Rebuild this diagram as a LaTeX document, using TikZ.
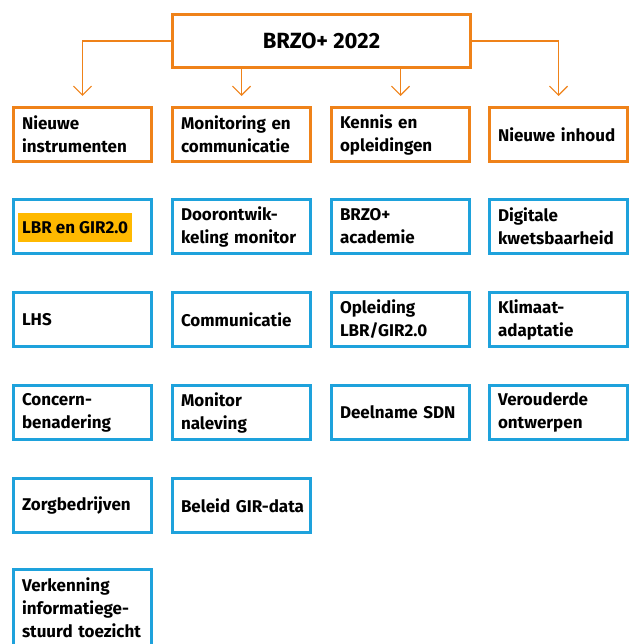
\documentclass[tikz,border=0pt]{standalone}
\usepackage{fontspec}
\setmainfont{Fira Sans}
\usetikzlibrary{arrows.meta}
\definecolor{brzoorange}{HTML}{EF8219}
\definecolor{brzoblue}{HTML}{1EA2DC}
\definecolor{brzoyellow}{HTML}{FFB900}

\begin{document}
\begin{tikzpicture}[x=1pt,y=-1pt,
  box/.style={draw, line width=3pt, minimum height=54pt, text width=121pt,
    inner xsep=8.5pt, inner ysep=0pt, align=left,
    font=\bfseries\fontsize{17}{23}\selectfont},
  catbox/.style={box, draw=brzoorange},
  itembox/.style={box, draw=brzoblue},
  hilite/.style={fill=brzoyellow, inner xsep=4pt, inner ysep=0pt,
    minimum height=29pt, font=\bfseries\fontsize{17}{23}\selectfont},
  link/.style={draw=brzoorange, line width=1.2pt, shorten >=10pt,
    -{Straight Barb[length=9pt,width=18pt,line width=1.2pt]}}]
  \useasboundingbox (0,0) rectangle (630,644);

  \node[draw=brzoorange, line width=3pt, minimum width=298pt, minimum height=53pt,
    font=\bfseries\fontsize{22}{26}\selectfont] (brzo) at (321.5,41) {BRZO+ 2022};

  % categories
  \node[catbox] (nieuw)  at (82.5,134.5)  {Nieuwe\\instrumenten};
  \node[catbox] (monit)  at (241.5,134.5) {Monitoring en\\communicatie};
  \node[catbox] (kennis) at (400.5,134.5) {Kennis en\\opleidingen};
  \node[catbox] (inhoud) at (558.5,134.5) {Nieuwe inhoud};

  \draw[link] (brzo.west) -| (nieuw.north);
  \draw[link] (brzo.south -| monit.north) -- (monit.north);
  \draw[link] (brzo.south -| kennis.north) -- (kennis.north);
  \draw[link] (brzo.east) -| (inhoud.north);

  % column 1
  \node[itembox] (lbr) at (82.5,226.5) {};
  \node[hilite, anchor=west] (lbrtxt) at (18,227.5) {LBR en GIR2.0};
  \node[itembox] (lhs) at (82.5,319.5) {LHS};
  \node[itembox] (concern) at (82.5,412.5) {Concern-\\benadering};
  \node[itembox] (zorg) at (82.5,505.5) {Zorgbedrijven};
  \node[itembox, minimum height=77pt] (verk) at (82.5,608)
    {Verkenning\\informatiege-\\stuurd toezicht};

  % column 2
  \node[itembox] (door) at (241.5,226.5) {Doorontwik-\\keling monitor};
  \node[itembox] (comm) at (241.5,319.5) {Communicatie};
  \node[itembox] (naleving) at (241.5,412.5) {Monitor\\naleving};
  \node[itembox] (beleid) at (241.5,505.5) {\mbox{Beleid GIR-data}};

  % column 3
  \node[itembox] (acad) at (400.5,226.5) {BRZO+\\academie};
  \node[itembox] (opl) at (400.5,319.5) {Opleiding\\LBR/GIR2.0};
  \node[itembox] (sdn) at (400.5,412.5) {Deelname SDN};

  % column 4
  \node[itembox] (digi) at (558.5,226.5) {Digitale\\kwetsbaarheid};
  \node[itembox] (klimaat) at (558.5,319.5) {Klimaat-\\adaptatie};
  \node[itembox] (verou) at (558.5,412.5) {Verouderde\\ontwerpen};
\end{tikzpicture}
\end{document}
